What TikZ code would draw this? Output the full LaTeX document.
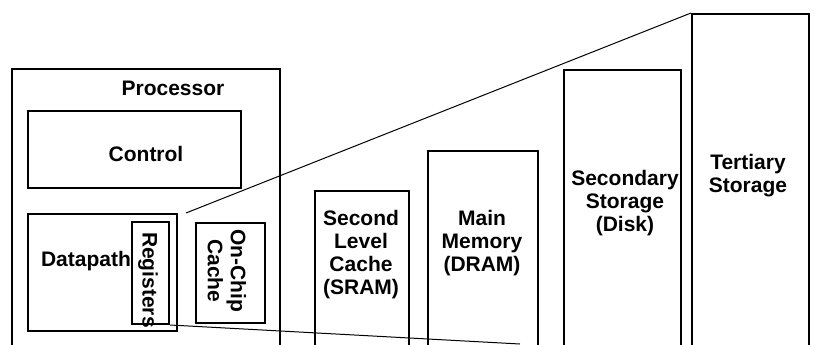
\documentclass[tikz,border=0pt]{standalone}
\usepackage{fontspec}
\setmainfont{Liberation Sans}
\begin{document}
\begin{tikzpicture}[x=1pt, y=-1pt,
  box/.style={draw, line width=2pt, anchor=north west, inner sep=0pt},
  lbl/.style={font=\fontsize{21}{23}\selectfont\bfseries, align=center, inner sep=0pt}]
\useasboundingbox (0,0) rectangle (815,345);
\clip (0,0) rectangle (815,345);

% processor and its parts
\node[box, minimum width=268pt, minimum height=320pt] at (11,68) (proc) {};
\node[box, minimum width=213pt, minimum height=77pt] at (27,110) (ctrl) {};
\node[box, minimum width=149pt, minimum height=117pt] at (27,213) (dpath) {};
\node[box, minimum width=37pt, minimum height=102pt] at (131,221) (regs) {};
\node[box, minimum width=69pt, minimum height=100pt] at (195,222) (onchip) {};

% levels of the hierarchy
\node[box, minimum width=94pt, minimum height=200pt] at (314,190) (sram) {};
\node[box, minimum width=110pt, minimum height=240pt] at (427,150) (dram) {};
\node[box, minimum width=117pt, minimum height=320pt] at (563,69) (disk) {};
\node[box, minimum width=117pt, minimum height=380pt] at (691,13) (tape) {};

\node[lbl] at (173,88) (proclbl) {Processor};
\node[lbl] at (146,154) (ctrllbl) {Control};
\node[lbl] at (86,261) (dpathlbl) {Datapath};
\node[lbl, rotate=-90] at (148,280) (regslbl) {Registers};
\node[lbl, rotate=-90] at (227,271) (onchiplbl) {On-Chip\\Cache};
\node[lbl] at (361,255) (sramlbl) {Second\\Level\\Cache\\(SRAM)};
\node[lbl] at (482,243) (dramlbl) {Main\\Memory\\(DRAM)};
\node[lbl] at (625,203) (disklbl) {Secondary\\Storage\\(Disk)};
\node[lbl] at (748,176) (tapelbl) {Tertiary\\Storage};

% widening outline
\coordinate (top) at (186,213);
\coordinate (bot) at (520,344);
\draw[line width=1pt] (top) -- (tape.north west);
\draw[line width=1pt] (regs.south east) -- (bot);
\end{tikzpicture}
\end{document}
